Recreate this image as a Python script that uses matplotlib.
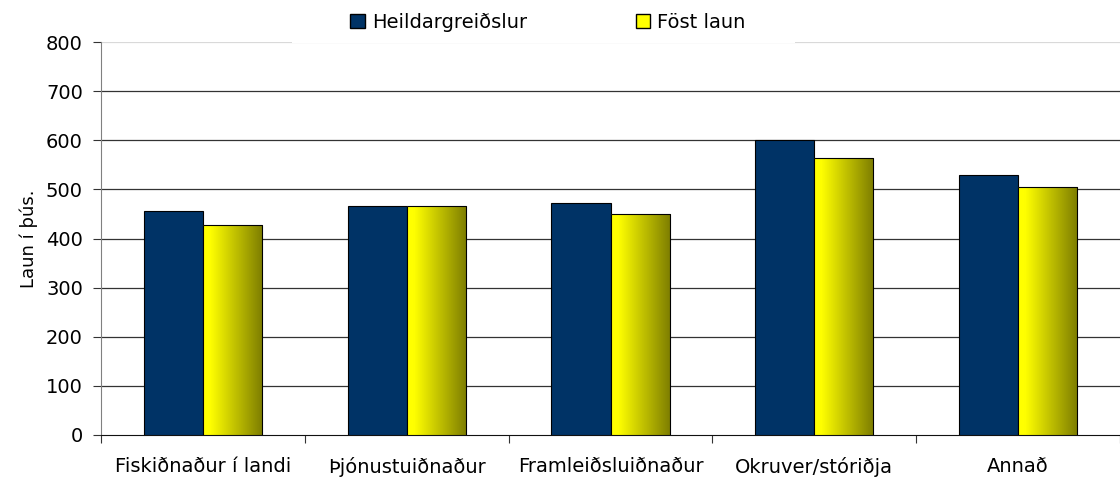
import matplotlib.pyplot as plt
import numpy as np
from matplotlib.patches import Patch, Rectangle

# Gögn
flokkar = ['Fiskiðnaður í landi', 'Þjónustuiðnaður', 'Framleiðsluiðnaður',
           'Okruver/stóriðja', 'Annað']
heildar = [456, 467, 473, 600, 529]
fost = [427, 467, 450, 564, 505]

plt.rcParams['font.family'] = 'DejaVu Sans'

fig = plt.figure(figsize=(11.2, 4.79), dpi=100)
ax = fig.add_axes([101/1120, 44/479, 1 - 101/1120, (435 - 42)/479])

x = np.arange(len(flokkar))
w = 0.29

# Litaskali fyrir gulu súlurnar
t = np.linspace(0, 1, 256)
s = np.clip((t - 0.12) / 0.86, 0, 1)
grad = np.zeros((1, 256, 3))
grad[0, :, 0] = 1.0 - 0.5 * s
grad[0, :, 1] = 1.0 - 0.5 * s
grad[0, :, 2] = 0.0

ax.bar(x - w/2, heildar, w, color='#003366', edgecolor='black', linewidth=0.8, zorder=3)
gular = ax.bar(x + w/2, fost, w, color='none', edgecolor='black', linewidth=0.8, zorder=4)
for b in gular:
    x0, y0 = b.get_x(), b.get_y()
    im = ax.imshow(grad, extent=[x0, x0 + b.get_width(), y0, y0 + b.get_height()],
                   aspect='auto', zorder=3, interpolation='bilinear')
    im.set_clip_path(b)

ax.set_xlim(-0.5, len(flokkar) - 0.5)
ax.set_ylim(0, 800)
ax.set_yticks(range(0, 801, 100))
for v in range(100, 701, 100):
    ax.axhline(v, color='#333333', linewidth=0.9, zorder=1)
ax.axhline(800, color='#d9d9d9', linewidth=0.9, zorder=1)

ax.set_xticks(np.arange(-0.5, len(flokkar), 1))
ax.set_xticklabels([])
ax.set_xticks(x, minor=True)
ax.set_xticklabels(flokkar, minor=True)
ax.tick_params(axis='x', which='minor', length=0, pad=16, labelsize=14)
ax.tick_params(axis='x', which='major', length=6, color='#333333')
ax.tick_params(axis='y', length=6, labelsize=14, color='#333333', pad=7)

for sp in ['top', 'right']:
    ax.spines[sp].set_visible(False)
ax.spines['left'].set_color('#808080')
ax.spines['bottom'].set_color('#111111')

ax.set_ylabel('Laun í þús.', fontsize=13, labelpad=6)
ax.set_zorder(1)

# Hvítur reitur undir skýringunni
fig.patches.append(Rectangle((292/1120, 1 - 43/479), (795 - 292)/1120, 43/479,
                             transform=fig.transFigure, facecolor='white',
                             edgecolor='none', zorder=5))

handles = [Patch(facecolor='#003366', edgecolor='black'),
           Patch(facecolor='#ffff00', edgecolor='black')]
leg = fig.legend(handles, ['Heildargreiðslur', 'Föst laun'], ncol=2,
                 loc='center', bbox_to_anchor=(548/1120, 1 - 22/479),
                 frameon=False, fontsize=14, handlelength=0.75, handleheight=0.75,
                 handletextpad=0.35, columnspacing=5.6)
leg.set_zorder(10)

fig.savefig('out.png', dpi=100)
